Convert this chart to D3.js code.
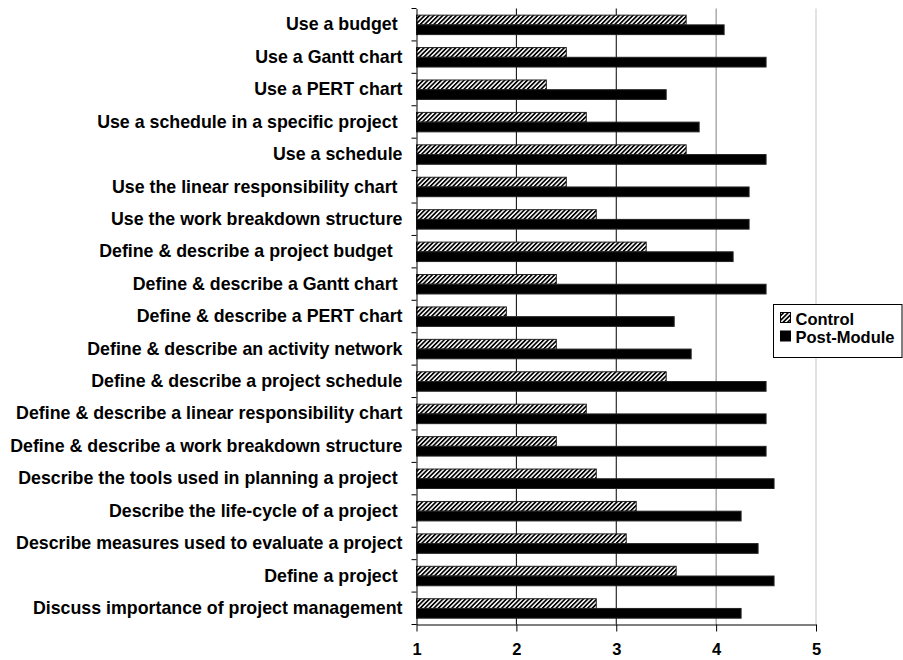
<!DOCTYPE html>
<html>
<head>
<meta charset="utf-8">
<script src="https://cdn.jsdelivr.net/npm/d3@7"></script>
<style>
  html, body { margin: 0; padding: 0; background: #fff; }
  svg { display: block; }
  text { font-family: "Liberation Sans", Arial, sans-serif; font-weight: bold; fill: #000; white-space: pre; }
</style>
</head>
<body>
<svg id="chart" width="903" height="660"></svg>
<script>
const categories = [
  "Use a budget ",
  "Use a Gantt chart",
  "Use a PERT chart",
  "Use a schedule in a specific project ",
  "Use a schedule",
  "Use the linear responsibility chart ",
  "Use the work breakdown structure",
  "Define & describe a project budget  ",
  "Define & describe a Gantt chart ",
  "Define & describe a PERT chart",
  "Define & describe an activity network",
  "Define & describe a project schedule",
  "Define & describe a linear responsibility chart",
  "Define & describe a work breakdown structure",
  "Describe the tools used in planning a project ",
  "Describe the life-cycle of a project ",
  "Describe measures used to evaluate a project",
  "Define a project ",
  "Discuss importance of project management"
];
const controlValues = [3.70, 2.50, 2.30, 2.70, 3.70, 2.50, 2.80, 3.30, 2.40, 1.90, 2.40, 3.50, 2.70, 2.40, 2.80, 3.20, 3.10, 3.60, 2.80];
const postValues    = [4.08, 4.50, 3.50, 3.83, 4.50, 4.33, 4.33, 4.17, 4.50, 3.58, 3.75, 4.50, 4.50, 4.50, 4.58, 4.25, 4.42, 4.58, 4.25];
const seriesNames = ["Control", "Post-Module"];
const xTicks = [1, 2, 3, 4, 5];

const svg = d3.select("#chart");
const plotLeft = 416.5, plotRight = 816, plotTop = 8.5, plotBottom = 624.5;

const x = d3.scaleLinear().domain([1, 5]).range([plotLeft, plotRight]);
const y = d3.scaleBand().domain(categories).range([plotTop, plotBottom]);
const inner = d3.scaleBand().domain(seriesNames).range([0, y.bandwidth() * 0.6]);

const defs = svg.append("defs");
const pat = defs.append("pattern")
  .attr("id", "hatch").attr("patternUnits", "userSpaceOnUse")
  .attr("width", 3.2).attr("height", 3.2)
  .attr("patternTransform", "rotate(45)");
pat.append("rect").attr("width", 3.2).attr("height", 3.2).attr("fill", "#fff");
pat.append("rect").attr("x", 0).attr("y", 0).attr("width", 1.7).attr("height", 3.2).attr("fill", "#000");

const fills = { "Control": "url(#hatch)", "Post-Module": "#000" };

// gridlines
const gridColors = { 2: "#000", 3: "#000", 4: "#808080", 5: "#e2e2e2" };
svg.append("g").selectAll("line")
  .data(xTicks.filter(d => d > 1))
  .join("line")
  .attr("x1", d => x(d)).attr("x2", d => x(d))
  .attr("y1", plotTop).attr("y2", plotBottom)
  .attr("stroke", d => gridColors[d])
  .attr("stroke-width", d => d === 5 ? 2 : 1);

// bars
const rows = categories.map((c, i) => ({ c, vals: [controlValues[i], postValues[i]] }));
const g = svg.append("g");
rows.forEach(r => {
  seriesNames.forEach((s, j) => {
    g.append("rect")
      .attr("x", x(1))
      .attr("y", y(r.c) + y.bandwidth() * 0.205 + inner(s))
      .attr("width", x(r.vals[j]) - x(1))
      .attr("height", inner.bandwidth())
      .attr("fill", fills[s])
      .attr("stroke", "#222")
      .attr("stroke-width", 1);
  });
});

// y axis
const yAxis = d3.axisLeft(y).tickSize(0).tickPadding(14);
const yg = svg.append("g").attr("transform", `translate(${plotLeft},0)`).call(yAxis);
yg.select(".domain").attr("stroke", "#000");
yg.selectAll(".tick text").attr("font-size", "17.8px").attr("font-family", "Liberation Sans, Arial, sans-serif").attr("font-weight", "bold").attr("fill", "#000");
// y ticks at band boundaries
const bounds = categories.map(c => y(c)).concat([plotBottom]);
svg.append("g").selectAll("line").data(bounds).join("line")
  .attr("x1", plotLeft - 5).attr("x2", plotLeft)
  .attr("y1", d => d).attr("y2", d => d)
  .attr("stroke", "#000");

// x axis
const xAxis = d3.axisBottom(x).tickValues(xTicks).tickFormat(d3.format("d")).tickSizeInner(7).tickSizeOuter(0).tickPadding(12);
const xg = svg.append("g").attr("transform", `translate(0,${plotBottom})`).call(xAxis);
xg.select(".domain").attr("stroke", "#000");
xg.selectAll(".tick line").attr("stroke", "#000");
xg.selectAll(".tick text").attr("font-size", "16.5px").attr("font-family", "Liberation Sans, Arial, sans-serif").attr("font-weight", "bold").attr("fill", "#000");

// legend
const lg = svg.append("g");
lg.append("rect").attr("x", 773.5).attr("y", 304.5).attr("width", 128.5).attr("height", 53)
  .attr("fill", "#fff").attr("stroke", "#000").attr("stroke-width", 1);
seriesNames.forEach((s, i) => {
  lg.append("rect").attr("x", 780.5).attr("y", 312.5 + i * 18.5).attr("width", 10).attr("height", 10)
    .attr("fill", fills[s]).attr("stroke", "#000").attr("stroke-width", 1);
  lg.append("text").attr("x", 795.5).attr("y", 324.5 + i * 18.5)
    .attr("font-size", "16.5px").text(s);
});
</script>
</body>
</html>
